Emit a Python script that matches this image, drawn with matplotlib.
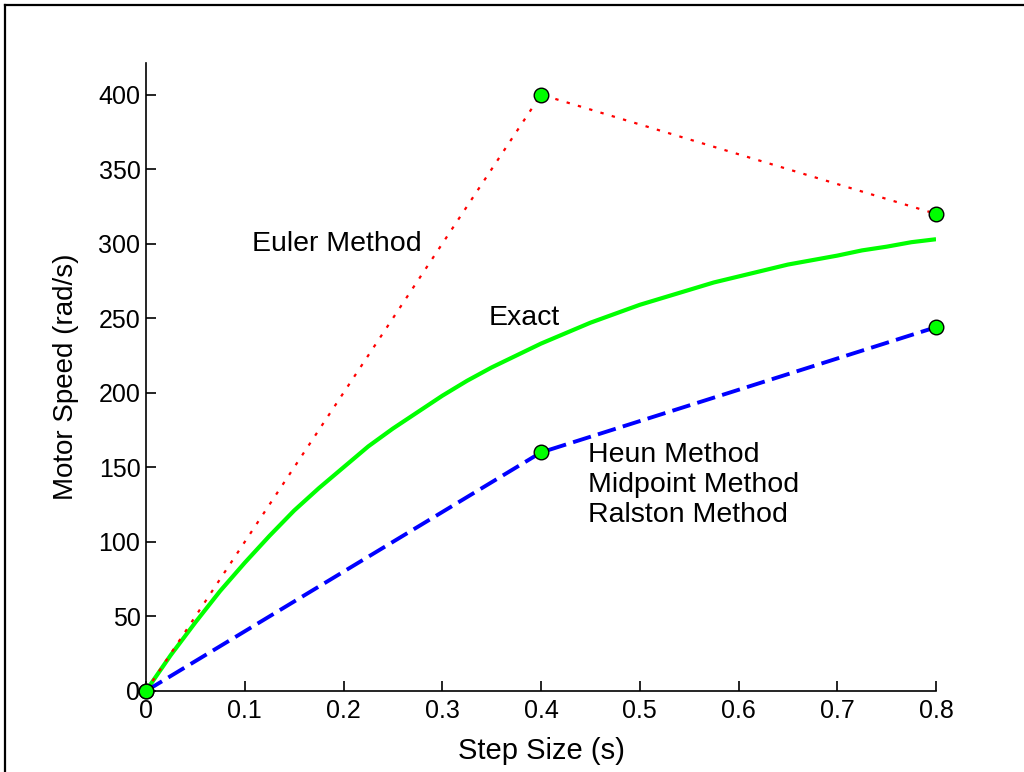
import matplotlib.pyplot as plt
from matplotlib.lines import Line2D

plt.rcParams['font.family'] = ['Liberation Sans', 'DejaVu Sans']

# step sizes where the numerical methods were evaluated
h = [0, 0.4, 0.8]
euler = [0, 400, 320]
heun = [0, 160, 244]   # Heun / Midpoint / Ralston give the same result

# exact solution
t_exact = [0, 0.025, 0.05, 0.075, 0.1, 0.125, 0.15, 0.175, 0.2, 0.225, 0.25,
           0.275, 0.3, 0.325, 0.35, 0.375, 0.4, 0.425, 0.45, 0.475, 0.5,
           0.525, 0.55, 0.575, 0.6, 0.625, 0.65, 0.675, 0.7, 0.725, 0.75,
           0.775, 0.8]
w_exact = [0, 24, 46, 67, 86, 104, 121, 136, 150, 164, 176,
           187, 198, 208, 217, 225, 233, 240, 247, 253, 259,
           264, 269, 274, 278, 282, 286, 289, 292, 295.5, 298,
           301, 303]

fig = plt.figure(figsize=(10.24, 7.72), dpi=100)
ax = fig.add_axes([0.1426, 0.105, 0.7715, 0.813])

ax.plot(t_exact, w_exact, color=(0, 1, 0), lw=3, solid_capstyle='butt')
ax.plot(h, euler, color=(1, 0, 0), lw=1.6, linestyle=(0, (1.5, 3.8)))
ax.plot(h, heun, color=(0, 0, 1), lw=2.8, linestyle=(0, (4.8, 1.9)))
ax.plot(h, euler, 'o', ms=10.5, mfc=(0, 1, 0), mec='k', mew=1, clip_on=False, zorder=5)
ax.plot(h, heun, 'o', ms=10.5, mfc=(0, 1, 0), mec='k', mew=1, clip_on=False, zorder=5)

ax.text(0.107, 300, 'Euler Method', fontsize=20.5, va='center', ha='left')
ax.text(0.347, 250, 'Exact', fontsize=20.5, va='center', ha='left')
ax.text(0.448, 167, 'Heun Method\nMidpoint Method\nRalston Method', fontsize=20.5,
        va='top', ha='left', linespacing=1.2)

ax.set_xlim(0, 0.8)
ax.set_ylim(0, 421)
ax.set_xticks([0, 0.1, 0.2, 0.3, 0.4, 0.5, 0.6, 0.7, 0.8])
ax.set_xticklabels(['0', '0.1', '0.2', '0.3', '0.4', '0.5', '0.6', '0.7', '0.8'])
ax.set_yticks(range(0, 401, 50))
ax.tick_params(direction='in', length=7, width=1.2, labelsize=18)
ax.tick_params(axis='x', pad=6)
ax.tick_params(axis='y', pad=4)
ax.spines['top'].set_visible(False)
ax.spines['right'].set_visible(False)
for s in ['left', 'bottom']:
    ax.spines[s].set_linewidth(1.2)

ax.set_xlabel('Step Size (s)', fontsize=21, labelpad=10)
ax.set_ylabel('Motor Speed (rad/s)', fontsize=20, labelpad=14)

# frame around the figure (only top and left edges show)
fig.add_artist(Line2D([0.0049, 0.0049], [0, 0.9935], color='k', lw=1.6))
fig.add_artist(Line2D([0.0049, 1], [0.9935, 0.9935], color='k', lw=1.6))

fig.savefig('out.png', dpi=100)
